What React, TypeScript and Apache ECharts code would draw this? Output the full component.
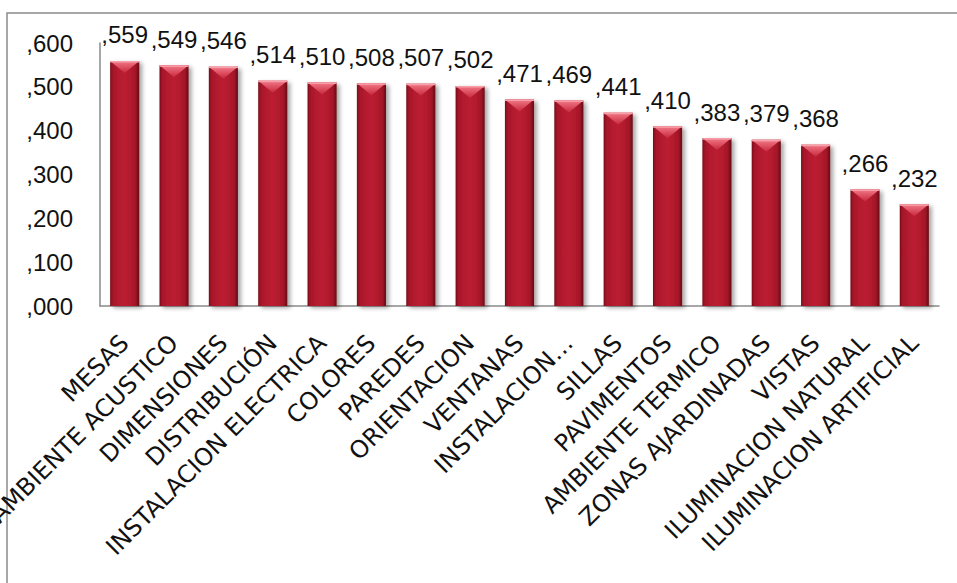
import React, { useEffect, useRef } from "react";
import * as echarts from "echarts";

const categories = [
  "MESAS",
  "AMBIENTE ACUSTICO",
  "DIMENSIONES",
  "DISTRIBUCIÓN",
  "INSTALACION ELECTRICA",
  "COLORES",
  "PAREDES",
  "ORIENTACION",
  "VENTANAS",
  "INSTALACION…",
  "SILLAS",
  "PAVIMENTOS",
  "AMBIENTE TERMICO",
  "ZONAS AJARDINADAS",
  "VISTAS",
  "ILUMINACION NATURAL",
  "ILUMINACION ARTIFICIAL",
];

const values = [
  0.559, 0.549, 0.546, 0.514, 0.51, 0.508, 0.507, 0.502, 0.471, 0.469, 0.441,
  0.41, 0.383, 0.379, 0.368, 0.266, 0.232,
];

const yTicks = [0, 0.1, 0.2, 0.3, 0.4, 0.5, 0.6];

const fmt = (v: number) =>
  "," + String(Math.round(v * 1000)).padStart(3, "0");

const BAR_FRAC = 0.59;
const FONT = "DejaVu Sans";
const NUM_FONT = "Liberation Sans";

export default function App() {
  const ref = useRef<HTMLDivElement>(null);

  useEffect(() => {
    if (!ref.current) return;
    const chart = echarts.init(ref.current, null, { renderer: "svg" });

    const barGradient = new echarts.graphic.LinearGradient(0, 0, 1, 0, [
      { offset: 0, color: "#7a0e1a" },
      { offset: 0.12, color: "#aa182c" },
      { offset: 0.5, color: "#bc1d31" },
      { offset: 0.85, color: "#a8182a" },
      { offset: 1, color: "#6a0b16" },
    ]);

    chart.setOption({
      animation: false,
      backgroundColor: "#ffffff",
      grid: {
        left: 100,
        top: 43,
        right: 18,
        bottom: 277,
        containLabel: false,
        outerBoundsMode: "none",
      },
      graphic: [
        {
          type: "rect",
          shape: { x: 7, y: 13, width: 980, height: 620 },
          style: { fill: "none", stroke: "#8a8a8a", lineWidth: 1.5 },
          silent: true,
          z: -10,
        },
      ],
      xAxis: {
        type: "category",
        data: categories,
        axisLine: { show: true, lineStyle: { color: "#8a8a8a", width: 1.5 } },
        axisTick: { show: false },
        axisLabel: {
          interval: 0,
          rotate: 45,
          margin: 33,
          color: "#111",
          fontFamily: FONT,
          fontSize: 24,
        },
      },
      yAxis: {
        type: "value",
        min: yTicks[0],
        max: yTicks[yTicks.length - 1],
        interval: 0.1,
        splitLine: { show: false },
        axisLine: { show: true, lineStyle: { color: "#8a8a8a", width: 1.5 } },
        axisTick: { show: false },
        axisLabel: {
          margin: 27,
          color: "#111",
          fontFamily: NUM_FONT,
          fontSize: 24,
          formatter: (v: number) => fmt(v),
        },
      },
      series: [
        {
          type: "bar",
          data: values,
          barCategoryGap: "41%",
          itemStyle: {
            color: barGradient,
            shadowColor: "rgba(0,0,0,0.35)",
            shadowBlur: 4,
            shadowOffsetX: 3,
            shadowOffsetY: 2,
          },
          label: {
            show: true,
            position: "top",
            distance: 14,
            color: "#111",
            fontFamily: NUM_FONT,
            fontSize: 24,
            formatter: (p: any) => fmt(p.value),
          },
          z: 2,
        },
        {
          type: "custom",
          data: values.map((v, i) => [i, v]),
          silent: true,
          z: 3,
          renderItem: (params: any, api: any) => {
            const idx = api.value(0);
            const val = api.value(1);
            const top = api.coord([idx, val]);
            const band = api.size([1, 0])[0];
            const w = band * BAR_FRAC;
            const x0 = top[0] - w / 2;
            const x1 = top[0] + w / 2;
            const y = top[1];
            const h = 12;
            return {
              type: "group",
              children: [
                {
                  type: "polygon",
                  shape: {
                    points: [
                      [x0, y],
                      [x1, y],
                      [top[0], y + h],
                    ],
                  },
                  style: {
                    fill: new echarts.graphic.LinearGradient(0, 0, 0, 1, [
                      { offset: 0, color: "#f27a89" },
                      { offset: 1, color: "#c8283c" },
                    ]),
                  },
                },
                {
                  type: "rect",
                  shape: { x: x0, y: y, width: w, height: 1.5 },
                  style: { fill: "#f8a0aa" },
                },
              ],
            };
          },
        },
      ],
    });

    return () => chart.dispose();
  }, []);

  return (
    <div
      ref={ref}
      style={{
        position: "absolute",
        left: 0,
        top: 0,
        width: 957,
        height: 583,
        background: "#fff",
      }}
    />
  );
}
